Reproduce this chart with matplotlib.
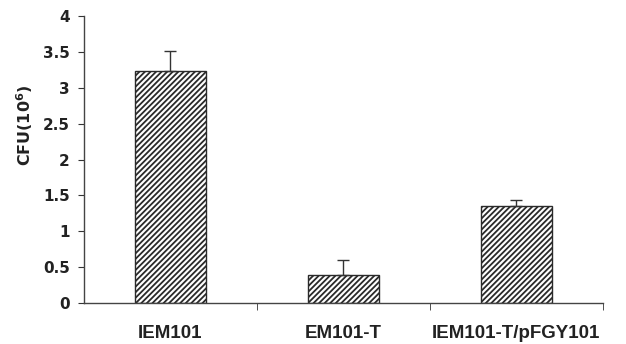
import numpy as np
import matplotlib.pyplot as plt

strains = ["IEM101", "EM101-T", "IEM101-T/pFGY101"]
cfu = [3.24, 0.39, 1.36]
err = [0.28, 0.21, 0.07]

plt.rcParams['font.family'] = ['Liberation Sans', 'DejaVu Sans']
plt.rcParams['hatch.linewidth'] = 1.3
plt.rcParams['hatch.color'] = '#2a2a2a'

fig = plt.figure(figsize=(6.26, 3.44), dpi=100)
ax = fig.add_axes([0.134, 0.119, 0.829, 0.834])

x = np.arange(len(strains))
ax.bar(x, cfu, width=0.41, color='white', edgecolor='#2a2a2a',
       hatch='//////', linewidth=1.0, zorder=2)
ax.errorbar(x, cfu, yerr=[np.zeros(3), err], fmt='none', ecolor='#333333',
            elinewidth=1.0, capsize=4, capthick=1.0, zorder=3)

ax.set_xlim(-0.5, 2.5)
ax.set_ylim(0, 4)
ax.set_yticks(np.arange(0, 4.01, 0.5))
ax.set_yticklabels(["0", "0.5", "1", "1.5", "2", "2.5", "3", "3.5", "4"],
                   fontsize=11, fontweight='bold', color='#222222',
                   family='DejaVu Sans')
ax.set_xticks(x)
ax.set_xticklabels(strains, fontsize=13.5, fontweight='bold', color='#222222')
ax.tick_params(axis='x', length=0, pad=16)
ax.set_xticks([0.5, 1.5, 2.5], minor=True)
ax.tick_params(axis='x', which='minor', length=5, direction='out', color='#333333')
ax.tick_params(axis='y', length=4, direction='out', color='#333333', pad=6)
fig.text(25 / 626, 1 - 125 / 344, "CFU(10$^\\mathbf{6}$)", rotation=90,
         ha='center', va='center', fontsize=11.5, fontweight='bold',
         color='#222222', family='DejaVu Sans')

for s in ['top', 'right']:
    ax.spines[s].set_visible(False)
for s in ['left', 'bottom']:
    ax.spines[s].set_color('#444444')
    ax.spines[s].set_linewidth(1.0)

fig.savefig("out.png", dpi=100)
